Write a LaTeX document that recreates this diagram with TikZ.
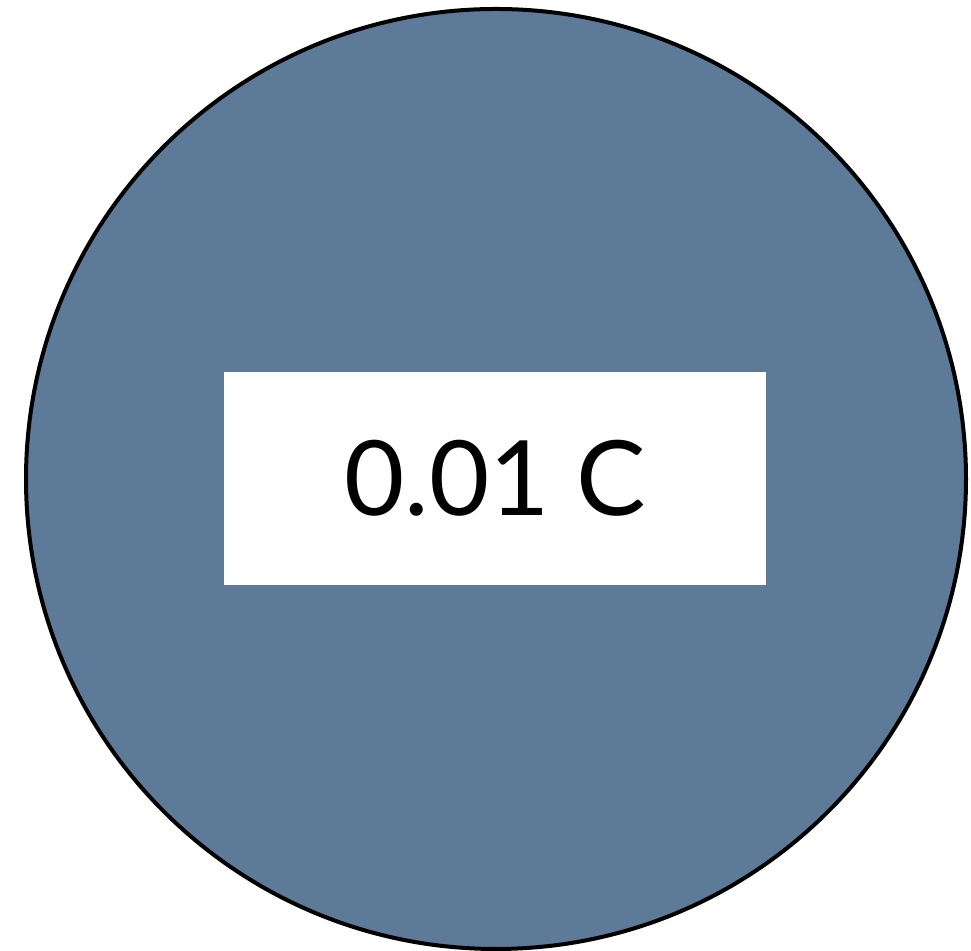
\documentclass[tikz,border=0pt]{standalone}
\usepackage{fontspec}
\setmainfont{Lato}
\usepackage{tikz}
\definecolor{slateblue}{RGB}{94,122,153}
\tikzset{
  disc/.style  = {circle, draw=black, line width=2pt, fill=slateblue,
                  minimum size=470pt, inner sep=0pt},
  label/.style = {fill=white, minimum width=271pt, minimum height=106.5pt,
                  inner sep=0pt, font=\fontsize{52}{58}\selectfont},
}

\begin{document}
\begin{tikzpicture}[x=0.5pt,y=0.5pt]
  \useasboundingbox (0,0) rectangle (971,951);
  \node[disc] (charge) at (496,472) {};
  \node[label] (value) at (495,472.5) {0.01 C};
\end{tikzpicture}
\end{document}
